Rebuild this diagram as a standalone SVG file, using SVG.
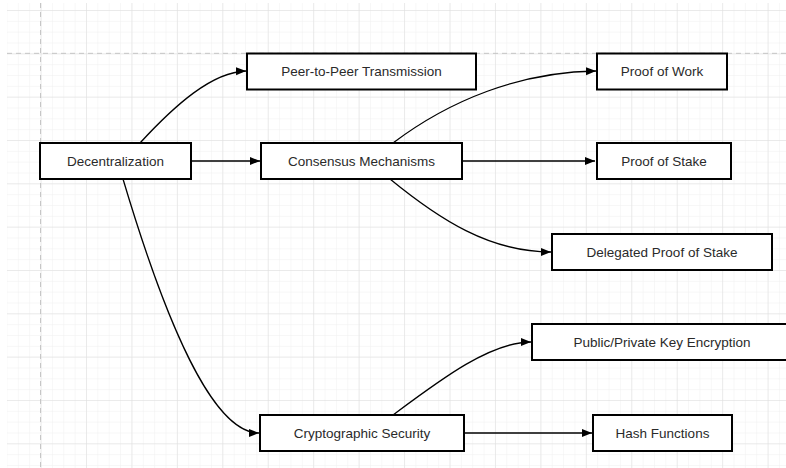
<svg xmlns="http://www.w3.org/2000/svg" width="786" height="468" viewBox="0 0 786 468">
<defs>
<pattern id="minor" patternUnits="userSpaceOnUse" x="40.56" y="10" width="11.36" height="10.833">
<path d="M0,0 V10.833 M0,0 H11.36" fill="none" stroke="#f0f0f0" stroke-width="1"/>
</pattern>
<pattern id="major" patternUnits="userSpaceOnUse" x="40.56" y="10" width="45.44" height="43.33">
<path d="M0,0 V43.33 M0,0 H45.44" fill="none" stroke="#dedede" stroke-width="1"/>
</pattern>
<marker id="arr" viewBox="0 0 10 10" refX="10" refY="5" markerWidth="10" markerHeight="10" markerUnits="userSpaceOnUse" orient="auto">
<path d="M0,1 L10,5 L0,9 Z" fill="#000"/>
</marker>
<style>
.box{fill:#fff;stroke:#000;stroke-width:2}
.lbl{font-family:"Liberation Sans",Arial,sans-serif;font-size:13.5px;fill:#2a2a2a;text-anchor:middle;dominant-baseline:central}
.edge{fill:none;stroke:#000;stroke-width:1.3;marker-end:url(#arr)}
</style>
</defs>
<rect width="786" height="468" fill="#fff"/>
<g id="grid">
<rect x="7" y="3" width="779" height="465" fill="url(#minor)"/>
<rect x="7" y="3" width="779" height="465" fill="url(#major)"/>
<line x1="40.56" y1="3" x2="40.56" y2="468" stroke="#c4c4c4" stroke-width="1" stroke-dasharray="5,4"/>
<line x1="7" y1="53.33" x2="786" y2="53.33" stroke="#c4c4c4" stroke-width="1" stroke-dasharray="5,4"/>
</g>
<g id="connectors">
<path class="edge" d="M140,143 C175,105 212,72 246,71"/>
<path class="edge" d="M191,161 H260"/>
<path class="edge" d="M123,179 C165,320 212,433 259,433"/>
<path class="edge" d="M393,143 C450,100 520,72 596,71"/>
<path class="edge" d="M463,161 H595"/>
<path class="edge" d="M390,179 C440,220 490,252 551,252"/>
<path class="edge" d="M393,415 C440,380 490,342 531,342"/>
<path class="edge" d="M464,433 H592"/>
</g>
<g id="n-decentralization"><rect class="box" x="40" y="143" width="151" height="36"/><text class="lbl" x="115.5" y="161">Decentralization</text></g>
<g id="n-p2p"><rect class="box" x="247" y="53.5" width="229" height="36"/><text class="lbl" x="361.5" y="71.5">Peer-to-Peer Transmission</text></g>
<g id="n-consensus"><rect class="box" x="261" y="143" width="201" height="36"/><text class="lbl" x="361.5" y="161">Consensus Mechanisms</text></g>
<g id="n-pow"><rect class="box" x="597" y="53.5" width="130" height="36"/><text class="lbl" x="662" y="71.5">Proof of Work</text></g>
<g id="n-pos"><rect class="box" x="597" y="143" width="134" height="36"/><text class="lbl" x="664" y="161">Proof of Stake</text></g>
<g id="n-dpos"><rect class="box" x="552" y="234" width="220" height="36"/><text class="lbl" x="662" y="252">Delegated Proof of Stake</text></g>
<g id="n-pke"><rect class="box" x="532" y="324" width="260" height="36"/><text class="lbl" x="662" y="342">Public/Private Key Encryption</text></g>
<g id="n-crypto"><rect class="box" x="260" y="415" width="204" height="36"/><text class="lbl" x="362" y="433">Cryptographic Security</text></g>
<g id="n-hash"><rect class="box" x="593" y="415" width="139" height="36"/><text class="lbl" x="662.5" y="433">Hash Functions</text></g>
</svg>
